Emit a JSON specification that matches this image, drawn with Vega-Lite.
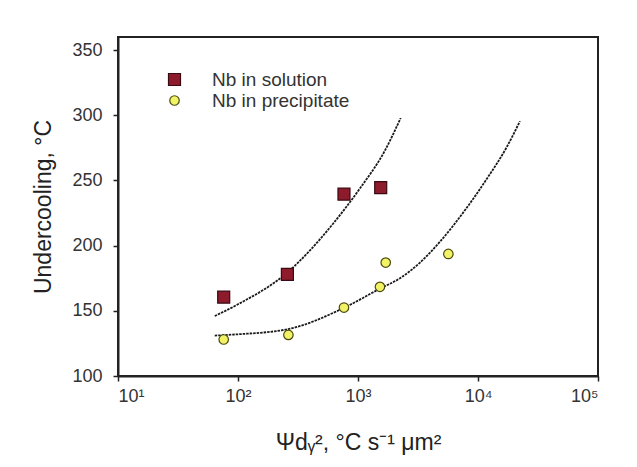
{
  "$schema": "https://vega.github.io/schema/vega-lite/v6.json",
  "width": 480,
  "height": 339,
  "autosize": {"type": "none"},
  "padding": {"left": 118, "top": 37, "right": 39, "bottom": 91},
  "background": "white",
  "config": {
    "font": "Liberation Sans",
    "view": {"stroke": "#222", "strokeWidth": 2},
    "axis": {
      "grid": false,
      "domainColor": "#222",
      "domainWidth": 2,
      "tickColor": "#222",
      "tickWidth": 1.5,
      "tickSize": 5,
      "labelFont": "Liberation Sans",
      "labelFontSize": 18,
      "labelColor": "#333",
      "titleFont": "Liberation Sans",
      "titleFontSize": 23,
      "titleFontWeight": "normal",
      "titleColor": "#222"
    },
    "legend": {
      "orient": "none",
      "legendX": 47,
      "legendY": 33,
      "labelFont": "Liberation Sans",
      "labelFontSize": 19,
      "labelColor": "#333",
      "labelOffset": 28,
      "rowPadding": 1,
      "padding": 0,
      "symbolStrokeWidth": 1.2
    }
  },
  "datasets": {
    "pts": [
      {"series": "Nb in solution", "x": 76, "y": 160.5},
      {"series": "Nb in solution", "x": 258, "y": 178},
      {"series": "Nb in solution", "x": 764, "y": 239.5},
      {"series": "Nb in solution", "x": 1546, "y": 244.5},
      {"series": "Nb in precipitate", "x": 76, "y": 128},
      {"series": "Nb in precipitate", "x": 263, "y": 131.5},
      {"series": "Nb in precipitate", "x": 764, "y": 152.5},
      {"series": "Nb in precipitate", "x": 1524, "y": 168.4},
      {"series": "Nb in precipitate", "x": 1702, "y": 187},
      {"series": "Nb in precipitate", "x": 5662, "y": 193.6}
    ],
    "fit": [
      {"series": "solution", "x": 64, "y": 146},
      {"series": "solution", "x": 100, "y": 155},
      {"series": "solution", "x": 255, "y": 179},
      {"series": "solution", "x": 622, "y": 217},
      {"series": "solution", "x": 1040, "y": 244},
      {"series": "solution", "x": 1679, "y": 273},
      {"series": "solution", "x": 2270, "y": 298},
      {"series": "precipitate", "x": 64, "y": 131},
      {"series": "precipitate", "x": 100, "y": 132},
      {"series": "precipitate", "x": 263, "y": 136},
      {"series": "precipitate", "x": 753, "y": 152},
      {"series": "precipitate", "x": 1524, "y": 167},
      {"series": "precipitate", "x": 2239, "y": 175},
      {"series": "precipitate", "x": 3289, "y": 187},
      {"series": "precipitate", "x": 4819, "y": 203},
      {"series": "precipitate", "x": 8054, "y": 229},
      {"series": "precipitate", "x": 11803, "y": 251},
      {"series": "precipitate", "x": 17338, "y": 275.5},
      {"series": "precipitate", "x": 22387, "y": 295.5}
    ]
  },
  "layer": [
    {
      "data": {"name": "fit"},
      "mark": {"type": "line", "interpolate": "monotone", "color": "#1a1a1a", "strokeWidth": 1.8, "strokeDash": [2.5, 1]},
      "encoding": {
        "x": {
          "field": "x", "type": "quantitative",
          "scale": {"type": "log", "domain": [10, 100000]},
          "axis": {
            "values": [10, 100, 1000, 10000, 100000],
            "labelExpr": "'10' + ['⁰','¹','²','³','⁴','⁵'][round(log(datum.value)/LN10)]",
            "labelPadding": 6,
            "title": "Ψdᵧ², °C s⁻¹ μm²",
            "titleY": 66,
            "titleBaseline": "middle"
          }
        },
        "y": {
          "field": "y", "type": "quantitative",
          "scale": {"domain": [100, 350]},
          "axis": {
            "values": [100, 150, 200, 250, 300, 350],
            "labelPadding": 11,
            "title": "Undercooling, °C",
            "titleX": -75,
            "titleBaseline": "middle"
          }
        },
        "detail": {"field": "series"}
      }
    },
    {
      "data": {"name": "pts"},
      "mark": {"type": "point", "filled": true, "strokeWidth": 1.2, "opacity": 1},
      "encoding": {
        "x": {"field": "x", "type": "quantitative"},
        "y": {"field": "y", "type": "quantitative"},
        "shape": {"field": "series", "type": "nominal", "scale": {"domain": ["Nb in solution", "Nb in precipitate"], "range": ["square", "circle"]}, "legend": {"title": null}},
        "fill": {"field": "series", "type": "nominal", "scale": {"domain": ["Nb in solution", "Nb in precipitate"], "range": ["#8e1b2c", "#f2f266"]}, "legend": {"title": null}},
        "stroke": {"field": "series", "type": "nominal", "scale": {"domain": ["Nb in solution", "Nb in precipitate"], "range": ["#3a0a12", "#4a4a10"]}, "legend": {"title": null}},
        "size": {"field": "series", "type": "nominal", "scale": {"domain": ["Nb in solution", "Nb in precipitate"], "range": [144, 90]}, "legend": {"title": null}}
      }
    }
  ]
}
